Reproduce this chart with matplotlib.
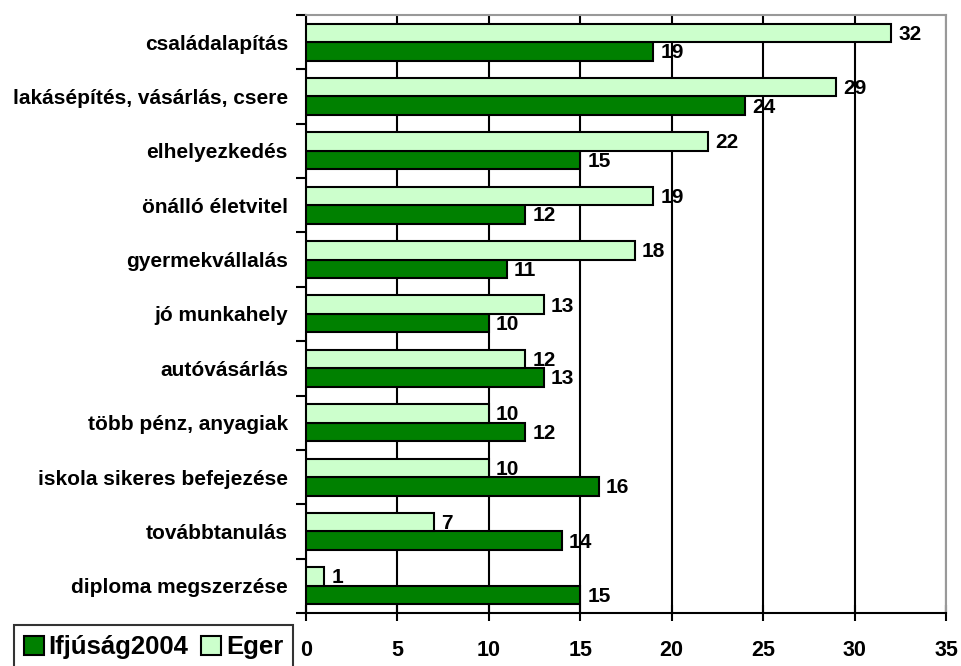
import numpy as np
import matplotlib.pyplot as plt

categories = ["családalapítás", "lakásépítés, vásárlás, csere", "elhelyezkedés",
              "önálló életvitel", "gyermekvállalás", "jó munkahely", "autóvásárlás",
              "több pénz, anyagiak", "iskola sikeres befejezése", "továbbtanulás",
              "diploma megszerzése"]
eger = [32, 29, 22, 19, 18, 13, 12, 10, 10, 7, 1]
ifjusag = [19, 24, 15, 12, 11, 10, 13, 12, 16, 14, 15]

plt.rcParams['font.family'] = ['Liberation Sans', 'DejaVu Sans']
plt.rcParams['font.weight'] = 'bold'

fig = plt.figure(figsize=(9.61, 6.66), dpi=100)
ax = fig.add_axes([0.3184, 0.0796, 0.666, 0.898])

n = len(categories)
y = np.arange(n)[::-1]
h = 0.34

b1 = ax.barh(y - h / 2, ifjusag, height=h, color='#008000', edgecolor='black',
             linewidth=1.5, label='Ifjúság2004', zorder=3)
b2 = ax.barh(y + h / 2, eger, height=h, color='#CCFFCC', edgecolor='black',
             linewidth=1.5, label='Eger', zorder=3)

for bars, vals in ((b1, ifjusag), (b2, eger)):
    for bar, v in zip(bars, vals):
        ax.annotate(str(v), (v, bar.get_y() + bar.get_height() / 2),
                    xytext=(5, -1), textcoords='offset points', ha='left', va='center',
                    fontsize=15, fontweight='bold', zorder=4)

ax.set_xlim(0, 35)
ax.set_ylim(-0.5, n - 0.5)
ax.set_xticks(np.arange(0, 36, 5))
ax.xaxis.grid(True, color='black', linewidth=1.5, zorder=0)
ax.set_axisbelow(True)

ax.set_yticks(y)
ax.set_yticklabels(categories, fontsize=15, fontweight='bold')
ax.set_yticks(np.arange(-0.5, n, 1), minor=True)
ax.tick_params(axis='y', which='major', length=0, pad=13)
ax.tick_params(axis='y', which='minor', length=7, width=1.5, direction='out')
ax.tick_params(axis='x', length=11, width=1.5, direction='inout', pad=14, labelsize=15.5)
for lab in ax.get_xticklabels():
    lab.set_fontweight('bold')

for s in ('left', 'bottom'):
    ax.spines[s].set_linewidth(1.5)
    ax.spines[s].set_color('black')
for s in ('top', 'right'):
    ax.spines[s].set_linewidth(1.5)
    ax.spines[s].set_color('#999999')

fig.legend(handles=[b1, b2], loc='upper left', bbox_to_anchor=(0.0146, 0.0616),
           ncol=2, frameon=True, fancybox=False, edgecolor='black',
           prop={'size': 18.5, 'weight': 'bold'}, handlelength=0.75, handleheight=0.75,
           handletextpad=0.2, columnspacing=0.5, borderpad=0.4, borderaxespad=0)
fig.legends[0].get_frame().set_linewidth(1.5)

fig.savefig('out.png', dpi=100)
